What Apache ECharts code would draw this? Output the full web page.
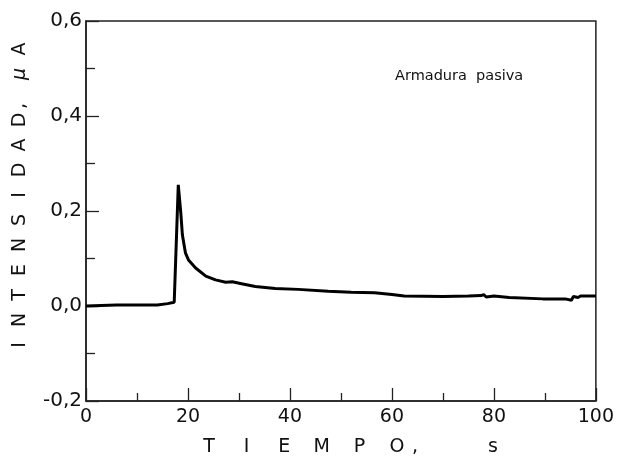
<!DOCTYPE html>
<html>
<head>
<meta charset="utf-8">
<script src="https://cdn.jsdelivr.net/npm/echarts@6/dist/echarts.min.js"></script>
<style>
  html, body { margin: 0; padding: 0; background: #fff; }
  #chart { width: 617px; height: 457px; }
</style>
</head>
<body>
<div id="chart"></div>
<script>
// Current transient on passive reinforcement
const tiempo = [0, 3, 6, 10, 14, 16, 17.3, 17.6, 18.1, 18.6, 18.9, 19.5, 20.1, 21.5, 23.5, 25.4, 27.4, 28.7, 30.5, 33.2, 37.1, 41.6, 47.5, 52, 56.6, 60, 62.4, 70, 75, 77.5, 78, 78.5, 80, 83, 89.6, 94, 95.2, 95.6, 96.5, 97, 100];
const intensidad = [0.000, 0.001, 0.002, 0.002, 0.002, 0.005, 0.008, 0.010, 0.255, 0.195, 0.150, 0.112, 0.097, 0.080, 0.063, 0.055, 0.050, 0.051, 0.047, 0.041, 0.037, 0.035, 0.031, 0.029, 0.028, 0.024, 0.021, 0.020, 0.021, 0.022, 0.024, 0.019, 0.021, 0.018, 0.015, 0.015, 0.012, 0.020, 0.018, 0.021, 0.021];

const xTicks = [0, 20, 40, 60, 80, 100];
const yTicks = [-0.2, 0.0, 0.2, 0.4, 0.6];
const xTitle = ['T', 'I', 'E', 'M', 'P', 'O'];
const yTitle = ['I', 'N', 'T', 'E', 'N', 'S', 'I', 'D', 'A', 'D'];
const annotation = 'Armadura  pasiva';

const FONT = 'DejaVu Sans';
const INK = '#111';

const chart = echarts.init(document.getElementById('chart'), null, { renderer: 'canvas' });

// spaced letters of the axis titles
const graphics = [];
const letter = (ch, x, y, rot, font) => ({
  type: 'text', x, y, rotation: rot,
  style: { text: ch, font: font || ('19px ' + FONT), fill: INK, align: 'center', verticalAlign: 'middle' }
});
xTitle.forEach((ch, i) => graphics.push(letter(ch, 209 + i * 37.6, 447, 0)));
graphics.push(letter(',', 415, 447, 0));
graphics.push(letter('s', 493, 447, 0));

yTitle.forEach((ch, i) => graphics.push(letter(ch, 20, 345 - i * 25, Math.PI / 2)));
graphics.push(letter(',', 20, 106, Math.PI / 2));
graphics.push(letter('μ', 20, 74, Math.PI / 2, 'italic 19px ' + FONT));
graphics.push(letter('A', 20, 49, Math.PI / 2));

graphics.push({
  type: 'text', left: 395, top: 69,
  style: { text: annotation, font: '14.5px ' + FONT, fill: INK }
});

const fmt = v => {
  const r = Math.round(v * 10) / 10;
  return (r === 0 ? '0.0' : r.toFixed(1)).replace('.', ',');
};

chart.setOption({
  animation: false,
  backgroundColor: '#fff',
  grid: { left: 86, right: 17, top: 21, bottom: 56, show: true, borderColor: '#222', borderWidth: 1.5, backgroundColor: 'transparent' },
  xAxis: {
    type: 'value', min: 0, max: 100, interval: 20,
    axisLine: { show: true, onZero: false, lineStyle: { color: '#222', width: 1.5 } },
    axisTick: { show: true, inside: true, length: 13, lineStyle: { color: '#222', width: 1.3 } },
    minorTick: { show: true, splitNumber: 2, length: 8, lineStyle: { color: '#222', width: 1.3 } },
    splitLine: { show: false },
    axisLabel: { margin: 7, color: INK, fontFamily: FONT, fontSize: 19, customValues: xTicks, formatter: v => String(v) }
  },
  yAxis: {
    type: 'value', min: -0.2, max: 0.6, interval: 0.2,
    axisLine: { show: true, onZero: false, lineStyle: { color: '#222', width: 1.5 } },
    axisTick: { show: true, inside: true, length: 13, lineStyle: { color: '#222', width: 1.3 } },
    minorTick: { show: true, splitNumber: 2, length: 9, lineStyle: { color: '#222', width: 1.3 } },
    splitLine: { show: false },
    axisLabel: { margin: 4, color: INK, fontFamily: FONT, fontSize: 20, customValues: yTicks, formatter: fmt }
  },
  series: [{
    type: 'line',
    data: tiempo.map((t, i) => [t, intensidad[i]]),
    showSymbol: false,
    smooth: false,
    lineStyle: { color: '#000', width: 3 },
    z: 3
  }],
  graphic: graphics
});
</script>
</body>
</html>
